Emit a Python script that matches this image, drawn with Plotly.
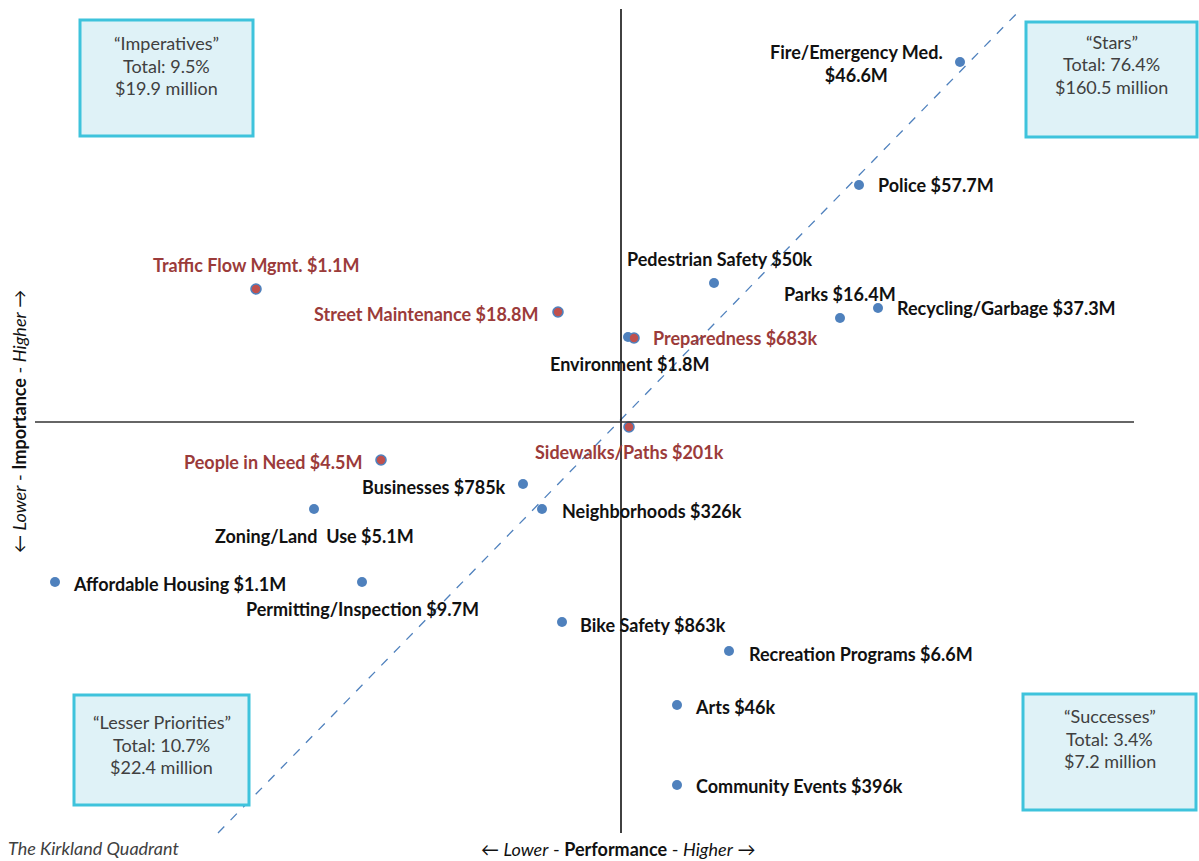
import plotly.graph_objects as go

W, H = 1199, 861

# ---------------- data ----------------
services = [
    "Fire/Emergency Med.", "Police", "Pedestrian Safety", "Parks", "Recycling/Garbage",
    "Environment", "Preparedness", "Street Maintenance", "Traffic Flow Mgmt.",
    "Sidewalks/Paths", "People in Need", "Businesses", "Neighborhoods",
    "Zoning/Land  Use", "Affordable Housing", "Permitting/Inspection", "Bike Safety",
    "Recreation Programs", "Arts", "Community Events",
]
budget = [
    "$46.6M", "$57.7M", "$50k", "$16.4M", "$37.3M",
    "$1.8M", "$683k", "$18.8M", "$1.1M",
    "$201k", "$4.5M", "$785k", "$326k",
    "$5.1M", "$1.1M", "$9.7M", "$863k",
    "$6.6M", "$46k", "$396k",
]
performance = [3.39, 2.38, 0.93, 2.19, 2.57, 0.07, 0.13, -0.63, -3.65, 0.08, -2.40,
               -0.98, -0.79, -3.07, -5.66, -2.59, -0.59, 1.08, 0.56, 0.56]
importance = [3.60, 2.37, 1.39, 1.04, 1.14, 0.85, 0.84, 1.10, 1.33, -0.05, -0.38,
              -0.62, -0.87, -0.87, -1.60, -1.60, -2.00, -2.29, -2.83, -3.63]
highlight = [False, False, False, False, False, False, True, True, True, True, True,
             False, False, False, False, False, False, False, False, False]

quadrant_names = ["\u201cImperatives\u201d", "\u201cStars\u201d",
                  "\u201cLesser Priorities\u201d", "\u201cSuccesses\u201d"]
quadrant_share = ["9.5%", "76.4%", "10.7%", "3.4%"]
quadrant_total = ["$19.9 million", "$160.5 million", "$22.4 million", "$7.2 million"]

# ---------------- styling / layout ----------------
BLUE = "#4F81BD"
RED = "#C0504D"
RED_TXT = "#9B3B3A"
LABEL_FONT = "Lato"
BOX_FONT = "Lato"

# label placement: (xanchor, dx px, dy px down)
placement = [
    ("center", -104, 1), ("left", 17, 0), ("center", 6, -24), ("center", 0, -24),
    ("left", 17, 0), ("center", 2, 27), ("left", 17, 0), ("right", -17, 2),
    ("center", 0, -24), ("center", 0, 25), ("right", -17, 2), ("right", -15, 3),
    ("left", 18, 2), ("center", 0, 27), ("left", 16, 2), ("center", 0, 27),
    ("left", 16, 3), ("left", 18, 3), ("left", 16, 2), ("left", 17, 1),
]

# axis ranges so that the chart spans the page
X_RANGE = [-6.21, 5.78]
Y_RANGE = [-4.39, 4.22]

def px(x):
    return x / W

def py(y):
    return 1 - y / H

fig = go.Figure()

# diagonal reference line
fig.add_trace(go.Scatter(
    x=[-4.03, 4.01], y=[-4.11, 4.14], mode="lines",
    line=dict(color=BLUE, width=1.3, dash="dash"), hoverinfo="skip", showlegend=False))

fig.add_trace(go.Scatter(
    x=performance, y=importance, mode="markers",
    marker=dict(size=10,
                color=[RED if h else BLUE for h in highlight],
                line=dict(color=BLUE, width=[1.6 if h else 0 for h in highlight])),
    text=[f"{s} {b}" for s, b in zip(services, budget)],
    hoverinfo="text", showlegend=False))

annotations = []
for s, b, x, y, h, (anc, dx, dy) in zip(services, budget, performance, importance,
                                        highlight, placement):
    txt = f"<b>{s}<br>{b}</b>" if s.startswith("Fire") else f"<b>{s} {b}</b>"
    annotations.append(dict(
        x=x, y=y, xref="x", yref="y", text=txt, showarrow=False,
        xanchor=anc, yanchor="middle", xshift=dx, yshift=-dy,
        font=dict(family=LABEL_FONT, size=18, color=RED_TXT if h else "#111111")))

shapes = [
    # quadrant axes
    dict(type="line", xref="x", yref="y", x0=0, x1=0, y0=4.13, y1=-4.11,
         line=dict(color="#111111", width=1.6)),
    dict(type="line", xref="x", yref="y", x0=-5.86, x1=5.13, y0=0, y1=0,
         line=dict(color="#333333", width=1.6)),
]

# quadrant boxes (pixel rectangles) and text line centres
boxes = [(80, 20, 253, 136), (1026, 22, 1197, 137), (74, 695, 249, 805), (1023, 694, 1196, 810)]
text_first = [43, 42, 722, 716]
for (x0, y0, x1, y1), name, share, tot, ty in zip(boxes, quadrant_names, quadrant_share,
                                                  quadrant_total, text_first):
    shapes.append(dict(type="rect", xref="paper", yref="paper",
                       x0=px(x0), x1=px(x1), y0=py(y0), y1=py(y1),
                       fillcolor="#DFF2F7", line=dict(color="#3EC3DC", width=3)))
    for i, line in enumerate([name, f"Total: {share}", tot]):
        annotations.append(dict(
            x=px((x0 + x1) / 2), y=py(ty + 22.5 * i), xref="paper", yref="paper",
            text=line, showarrow=False, xanchor="center", yanchor="middle",
            font=dict(family=BOX_FONT, size=18, color="#404040")))

# axis titles
annotations.append(dict(
    x=px(618), y=py(849), xref="paper", yref="paper", showarrow=False,
    text="\u2190 <i>Lower</i> - <b>Performance</b> - <i>Higher</i> \u2192",
    xanchor="center", yanchor="middle",
    font=dict(family=LABEL_FONT, size=18, color="#111111")))
annotations.append(dict(
    x=px(19), y=py(422), xref="paper", yref="paper", showarrow=False, textangle=-90,
    text="\u2190 <i>Lower</i> - <b>Importance</b> - <i>Higher</i> \u2192",
    xanchor="center", yanchor="middle",
    font=dict(family=LABEL_FONT, size=18, color="#111111")))
annotations.append(dict(
    x=px(181), y=py(848), xref="paper", yref="paper", showarrow=False,
    text="<i>The Kirkland Quadrant</i>", xanchor="right", yanchor="middle",
    font=dict(family=BOX_FONT, size=18, color="#404040")))

fig.update_layout(
    width=W, height=H, margin=dict(l=0, r=0, t=0, b=0),
    paper_bgcolor="white", plot_bgcolor="white",
    xaxis=dict(range=X_RANGE, visible=False, fixedrange=True),
    yaxis=dict(range=Y_RANGE, visible=False, fixedrange=True),
    shapes=shapes, annotations=annotations, showlegend=False)

fig.write_html("out.html")
